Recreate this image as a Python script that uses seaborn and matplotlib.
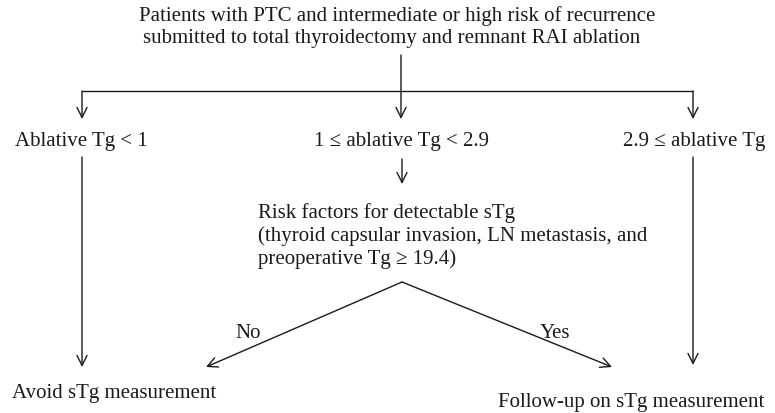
import matplotlib
matplotlib.use("Agg")
import matplotlib.pyplot as plt
import seaborn as sns

# --- flowchart text ---
top_text = ["Patients with PTC and intermediate or high risk of recurrence",
            "submitted to total thyroidectomy and remnant RAI ablation"]
branch_labels = ["Ablative Tg < 1", "1 \u2264 ablative Tg < 2.9", "2.9 \u2264 ablative Tg"]
risk_text = ["Risk factors for detectable sTg",
             "(thyroid capsular invasion, LN metastasis, and",
             "preoperative Tg \u2265 19.4)"]
decision_labels = ["No", "Yes"]
outcome_labels = ["Avoid sTg measurement", "Follow-up on sTg measurement"]

sns.set_theme(style="white")
plt.rcParams['font.family'] = ['Liberation Serif', 'DejaVu Serif']

W, H = 775, 414
fig = plt.figure(figsize=(W / 100, H / 100), dpi=100)
ax = fig.add_axes([0, 0, 1, 1])
ax.set_xlim(0, W)
ax.set_ylim(H, 0)
ax.axis('off')

fs = 15
col = '#1a1a1a'
lw = 1.0
arrow = dict(arrowstyle='->,head_length=0.6,head_width=0.3', color=col, lw=lw,
             shrinkA=0, shrinkB=0)


def arr(x0, y0, x1, y1):
    ax.annotate('', xy=(x1, y1), xytext=(x0, y0), arrowprops=arrow)


def txt(x, y, s, ha='left'):
    ax.text(x, y, s, ha=ha, va='baseline', fontsize=fs, color=col)


# top text
txt(397, 21, top_text[0], 'center')
txt(392, 43, top_text[1], 'center')

# split
arr(401, 56, 401, 120)
ax.plot([82, 693], [92, 92], color=col, lw=lw)
arr(82, 92, 82, 120)
arr(693, 92, 693, 120)

# branch labels
txt(15, 146, branch_labels[0])
txt(402, 146, branch_labels[1], 'center')
txt(694, 146, branch_labels[2], 'center')

# middle -> risk factors
arr(402, 160, 402, 185)
for i, t in enumerate(risk_text):
    txt(258, 218 + i * 23, t)

# decision V
arr(402, 283, 206, 368)
arr(402, 283, 612, 368)
txt(248, 338, decision_labels[0], 'center')
txt(555, 338, decision_labels[1], 'center')

# side verticals
arr(82, 158, 82, 368)
arr(693, 158, 693, 366)

# outcomes
txt(12, 398, outcome_labels[0])
txt(764, 407, outcome_labels[1], 'right')

fig.savefig("out.png", dpi=100, facecolor='white')
